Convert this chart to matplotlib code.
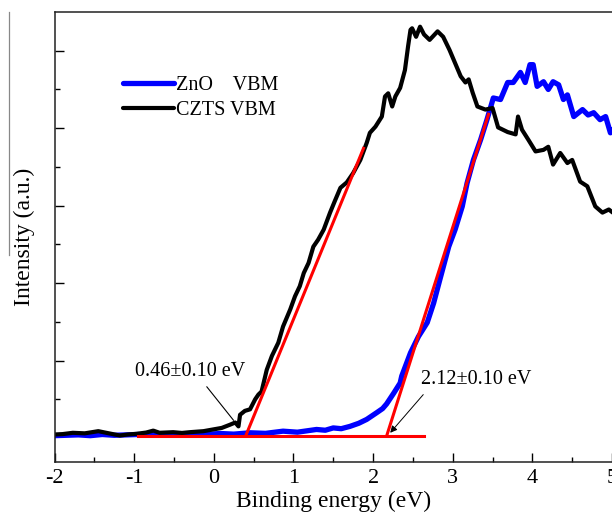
import matplotlib
matplotlib.use("Agg")
import matplotlib.pyplot as plt
from matplotlib.lines import Line2D
from matplotlib.ticker import MultipleLocator, NullFormatter

plt.rcParams["font.family"] = ["Liberation Serif", "DejaVu Serif"]
plt.rcParams["axes.unicode_minus"] = False

# ZnO valence band spectrum
zno_x = [-2.00, -1.85, -1.70, -1.55, -1.40, -1.25, -1.10, -0.95,
         -0.80, -0.65, -0.50, -0.35, -0.20, -0.05, 0.08, 0.25,
         0.46, 0.65, 0.87, 1.05, 1.29, 1.40, 1.50, 1.60,
         1.71, 1.82, 1.92, 2.05, 2.12, 2.17, 2.26, 2.34,
         2.36, 2.47, 2.57, 2.68, 2.76, 2.84, 2.95, 3.03,
         3.12, 3.18, 3.26, 3.35, 3.43, 3.51, 3.60, 3.69,
         3.76, 3.85, 3.91, 3.97, 4.01, 4.06, 4.14, 4.20,
         4.26, 4.33, 4.39, 4.44, 4.52, 4.63, 4.70, 4.77,
         4.85, 4.92, 4.98, 5.01]
zno_y = [0.03, 0.035, 0.04, 0.03, 0.045, 0.035, 0.04, 0.045,
         0.035, 0.05, 0.04, 0.045, 0.04, 0.05, 0.058, 0.05,
         0.067, 0.06, 0.088, 0.075, 0.11, 0.10, 0.13, 0.12,
         0.15, 0.19, 0.24, 0.33, 0.38, 0.44, 0.58, 0.71,
         0.80, 1.10, 1.31, 1.49, 1.74, 2.05, 2.47, 2.69,
         2.99, 3.29, 3.59, 3.85, 4.11, 4.39, 4.37, 4.59,
         4.59, 4.72, 4.59, 4.82, 4.82, 4.54, 4.60, 4.50,
         4.60, 4.56, 4.37, 4.43, 4.15, 4.24, 4.17, 4.20,
         4.11, 4.15, 3.94, 3.98]

# CZTS valence band spectrum
czts_x = [-2.00, -1.90, -1.77, -1.62, -1.45, -1.35, -1.18, -1.08,
          -0.97, -0.85, -0.76, -0.68, -0.51, -0.40, -0.30, -0.13,
          -0.01, 0.10, 0.20, 0.27, 0.31, 0.33, 0.39, 0.455,
          0.52, 0.56, 0.60, 0.665, 0.73, 0.81, 0.87, 0.96,
          1.02, 1.08, 1.13, 1.19, 1.25, 1.31, 1.38, 1.46,
          1.52, 1.59, 1.67, 1.75, 1.84, 1.92, 1.96, 2.03,
          2.11, 2.15, 2.19, 2.24, 2.28, 2.34, 2.40, 2.44,
          2.47, 2.49, 2.54, 2.59, 2.64, 2.71, 2.81, 2.88,
          2.96, 3.03, 3.10, 3.16, 3.20, 3.25, 3.31, 3.41,
          3.50, 3.57, 3.69, 3.79, 3.82, 3.87, 3.95, 4.04,
          4.14, 4.20, 4.26, 4.35, 4.44, 4.50, 4.60, 4.69,
          4.79, 4.88, 4.96, 5.01]
czts_y = [0.045, 0.05, 0.067, 0.06, 0.088, 0.067, 0.032, 0.045,
          0.054, 0.07, 0.095, 0.067, 0.075, 0.065, 0.075, 0.088,
          0.11, 0.13, 0.17, 0.20, 0.15, 0.30, 0.35, 0.37,
          0.50, 0.56, 0.60, 0.88, 1.06, 1.23, 1.44, 1.66,
          1.83, 1.96, 2.13, 2.26, 2.47, 2.56, 2.69, 2.91,
          3.06, 3.23, 3.30, 3.42, 3.59, 3.81, 3.94, 4.02,
          4.15, 4.41, 4.45, 4.28, 4.41, 4.52, 4.75, 5.06,
          5.27, 5.29, 5.18, 5.31, 5.21, 5.14, 5.25, 5.18,
          5.01, 4.84, 4.67, 4.59, 4.63, 4.46, 4.28, 4.24,
          4.26, 4.01, 3.95, 3.92, 4.15, 3.98, 3.85, 3.70,
          3.72, 3.76, 3.53, 3.68, 3.55, 3.59, 3.31, 3.25,
          2.99, 2.91, 2.95, 2.91]

# linear fits (red)
base_x = [-0.95, 2.64]
base_y = [0.025, 0.025]
fit_czts_x = [0.40, 1.88]
fit_czts_y = [0.025, 3.74]
fit_zno_x = [2.17, 3.45]
fit_zno_y = [0.025, 4.18]

labels = ["ZnO    VBM", "CZTS VBM"]
onset_text = ["0.46\u00b10.10 eV", "2.12\u00b10.10 eV"]

fig = plt.figure(figsize=(6.12, 5.19), dpi=100)
ax = fig.add_axes([54.5 / 612, 1 - 462 / 519, 1 - 54.5 / 612, 450 / 519])

ax.plot(zno_x, zno_y, color="#0000ff", lw=3.8, label=labels[0], solid_capstyle="round")
ax.plot(czts_x, czts_y, color="black", lw=3.0, label=labels[1], solid_capstyle="round")
ax.plot(base_x, base_y, color="#ff0000", lw=2.2)
ax.plot(fit_czts_x, fit_czts_y, color="#ff0000", lw=2.2)
ax.plot(fit_zno_x, fit_zno_y, color="#ff0000", lw=2.2)

ax.text(-0.30, 0.80, onset_text[0], fontsize=14.5, ha="center", va="baseline")
ax.annotate("", xy=(0.27, 0.20), xytext=(-0.11, 0.69),
            arrowprops=dict(arrowstyle="-", color="black", lw=0.8))
ax.text(3.30, 0.70, onset_text[1], fontsize=14.5, ha="center", va="baseline")
ax.annotate("", xy=(2.215, 0.067), xytext=(2.63, 0.56),
            arrowprops=dict(arrowstyle="-|>", color="black", lw=0.7,
                            mutation_scale=10, shrinkA=0, shrinkB=0))

ax.set_xlim(-2, 5)
ax.set_ylim(-0.31, 5.50)
ax.xaxis.set_major_locator(MultipleLocator(1))
ax.xaxis.set_minor_locator(MultipleLocator(0.5))
ax.set_yticks([1, 2, 3, 4, 5])
ax.set_yticks([0.5, 1.5, 2.5, 3.5, 4.5], minor=True)
ax.yaxis.set_major_formatter(NullFormatter())
ax.tick_params(which="both", direction="in", top=False, right=False, width=1.0)
ax.tick_params(which="major", length=6.5, labelsize=16, pad=5)
ax.tick_params(which="minor", length=3.6)
ax.spines["right"].set_visible(False)
for s in ["left", "bottom", "top"]:
    ax.spines[s].set_linewidth(1.1)
    ax.spines[s].set_color("#222222")

ax.set_xlabel("Binding energy (eV)", fontsize=17, labelpad=2)
ax.set_ylabel("Intensity (a.u.)", fontsize=17, labelpad=9)

ax.legend(loc="upper left", bbox_to_anchor=(0.1226, 0.858), frameon=False,
          fontsize=14.5, handlelength=2.55, handletextpad=0.1,
          borderpad=0, borderaxespad=0, labelspacing=0.3)

# thin grey stroke left of the y label in the source image
fig.add_artist(Line2D([9 / 612, 9 / 612], [1 - 12 / 519, 1 - 255 / 519],
                      transform=fig.transFigure, color="#888888", lw=0.9))

fig.savefig("out.png", dpi=100)
